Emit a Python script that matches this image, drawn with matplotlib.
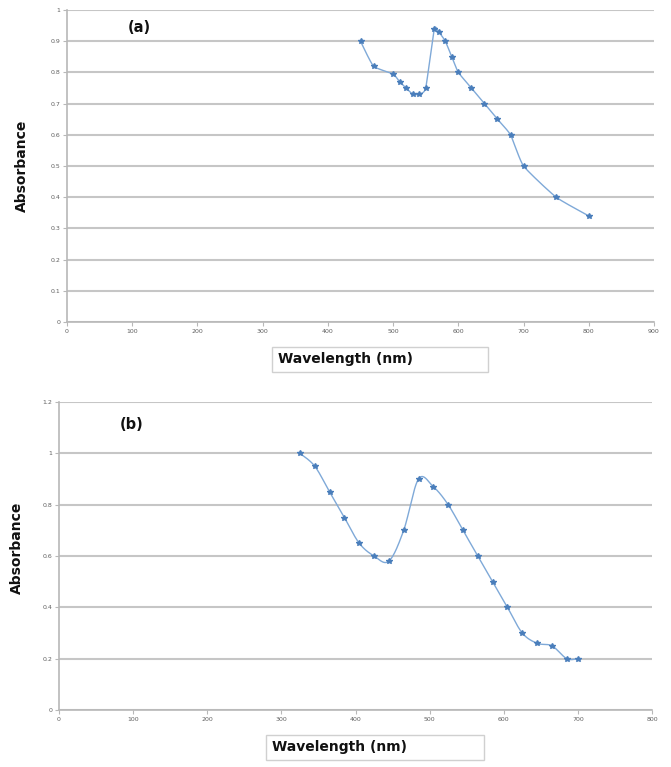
import numpy as np
import matplotlib
matplotlib.use('Agg')
import matplotlib.pyplot as plt
from matplotlib.patches import Rectangle

# ---- data ----
wl_a = [450, 470, 500, 510, 520, 530, 540, 550, 563, 570, 580, 590, 600, 620, 640, 660, 680, 700, 750, 800]
abs_a = [0.90, 0.82, 0.795, 0.77, 0.75, 0.73, 0.73, 0.75, 0.94, 0.93, 0.90, 0.85, 0.80, 0.75, 0.70, 0.65, 0.60, 0.50, 0.40, 0.34]
wl_b = [325, 345, 365, 385, 405, 425, 445, 465, 485, 505, 525, 545, 565, 585, 605, 625, 645, 665, 685, 700]
abs_b = [1.00, 0.95, 0.85, 0.75, 0.65, 0.60, 0.58, 0.70, 0.90, 0.87, 0.80, 0.70, 0.60, 0.50, 0.40, 0.30, 0.26, 0.25, 0.20, 0.20]
xticks_a = list(range(0, 901, 100))
yticks_a = [0, 0.1, 0.2, 0.3, 0.4, 0.5, 0.6, 0.7, 0.8, 0.9, 1]
ytlabels_a = ['0', '0.1', '0.2', '0.3', '0.4', '0.5', '0.6', '0.7', '0.8', '0.9', '1']
xticks_b = list(range(0, 801, 100))
yticks_b = [0, 0.2, 0.4, 0.6, 0.8, 1.0, 1.2]
ytlabels_b = ['0', '0.2', '0.4', '0.6', '0.8', '1', '1.2']

W, H = 671, 767
fig = plt.figure(figsize=(W / 100, H / 100), dpi=100)

LINE = '#7fa9d8'
MARK = '#4a7ebb'
GRID = '#c6c6c6'


def smooth(ax, x, y, k, n=24):
    pts = ax.transData.transform(np.column_stack([x, y]))
    P = np.vstack([pts[0], pts, pts[-1]])
    out = []
    t = np.linspace(0, 1, n)[:, None]
    for i in range(1, len(P) - 2):
        p0, p1, p2, p3 = P[i - 1], P[i], P[i + 1], P[i + 2]
        c1 = p1 + (p2 - p0) * k
        c2 = p2 - (p3 - p1) * k
        seg = (1 - t) ** 3 * p1 + 3 * (1 - t) ** 2 * t * c1 + 3 * (1 - t) * t ** 2 * c2 + t ** 3 * p2
        out.append(seg)
    out = np.vstack(out)
    return ax.transData.inverted().transform(out)


def panel(rect, x, y, xlim, ylim, xt, yt, ytl, label, label_pos, ylab_pos, box, k):
    l, t, r, b = rect
    ax = fig.add_axes([l / W, 1 - b / H, (r - l) / W, (b - t) / H])
    ax.set_xlim(*xlim)
    ax.set_ylim(*ylim)
    ax.set_xticks(xt)
    ax.set_xticklabels([str(v) for v in xt])
    ax.set_yticks(yt)
    ax.set_yticklabels(ytl)
    ax.yaxis.grid(True, color=GRID, linewidth=1.5)
    ax.set_axisbelow(True)
    for s in ['top', 'right']:
        ax.spines[s].set_visible(False)
    for s in ['left', 'bottom']:
        ax.spines[s].set_color('#b8b8b8')
        ax.spines[s].set_linewidth(1.2)
    ax.tick_params(axis='both', labelsize=4.5, colors='#b8b8b8', labelcolor='#606060',
                   length=3, width=0.8, pad=2)
    sm = smooth(ax, x, y, k)
    ax.plot(sm[:, 0], sm[:, 1], color=LINE, linewidth=1.0, clip_on=False)
    ax.plot(x, y, linestyle='none', marker='*', markersize=4, color=MARK, clip_on=False)
    fig.text(label_pos[0] / W, 1 - label_pos[1] / H, label, fontsize=10.5,
             fontweight='bold', ha='left', va='center', color='#111111')
    fig.text(ylab_pos[0] / W, 1 - ylab_pos[1] / H, 'Absorbance', fontsize=10,
             fontweight='bold', rotation=90, ha='center', va='center', color='#111111')
    bl, bt, br, bb = box
    fig.patches.append(Rectangle((bl / W, 1 - bb / H), (br - bl) / W, (bb - bt) / H,
                                 transform=fig.transFigure, facecolor='white',
                                 edgecolor='#d0d0d0', linewidth=1.0))
    fig.text((bl + 6) / W, 1 - (bt + bb) / 2 / H, 'Wavelength (nm)', fontsize=10,
             fontweight='bold', ha='left', va='center', color='#111111')
    return ax


panel((67, 10, 654, 322), wl_a, abs_a, (0, 900), (0, 1), xticks_a, yticks_a, ytlabels_a,
      '(a)', (128, 27), (22, 166), (272, 347, 488, 372), 1 / 12)
panel((59, 402, 652, 710), wl_b, abs_b, (0, 800), (0, 1.2), xticks_b, yticks_b, ytlabels_b,
      '(b)', (120, 425), (17, 548), (266, 735, 484, 760), 1 / 6)

fig.savefig('out.png', dpi=100)
